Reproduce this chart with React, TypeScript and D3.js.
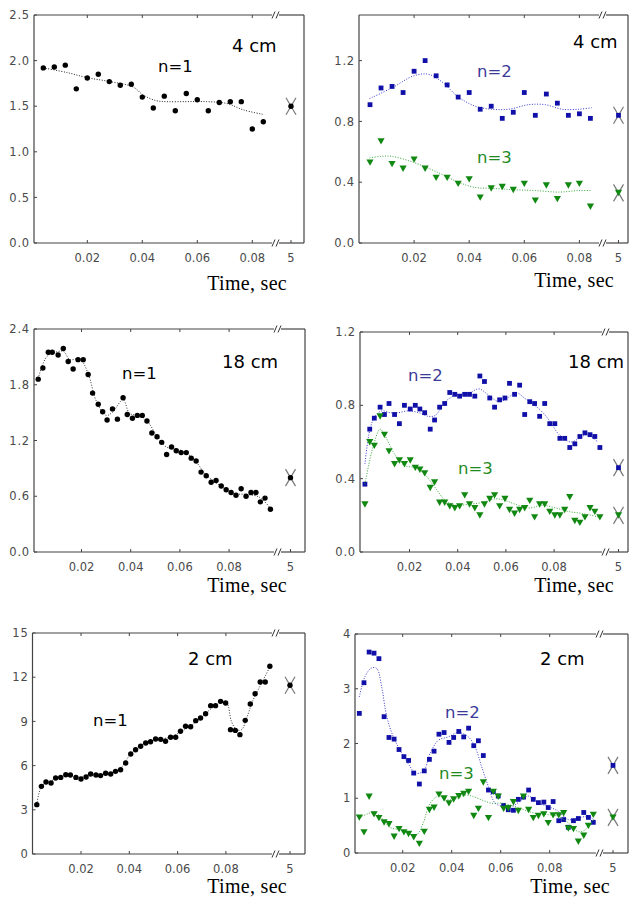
import React from "react";
import * as d3 from "d3";

// ---------- data ----------
const timeTop = [0.004, 0.008, 0.012, 0.016, 0.02, 0.024, 0.028, 0.032, 0.036, 0.04, 0.044, 0.048, 0.052, 0.056, 0.06, 0.064, 0.068, 0.072, 0.076, 0.08, 0.084];

const p1N1 = [1.92, 1.93, 1.95, 1.69, 1.81, 1.85, 1.77, 1.73, 1.74, 1.6, 1.48, 1.61, 1.45, 1.64, 1.57, 1.45, 1.54, 1.55, 1.55, 1.25, 1.33];
const p1FitT = [0.004, 0.0125, 0.0204, 0.0283, 0.0367, 0.0404, 0.0452, 0.0489, 0.0561, 0.0634, 0.0707, 0.0767, 0.084];
const p1FitV = [1.92, 1.87, 1.81, 1.77, 1.71, 1.62, 1.56, 1.55, 1.55, 1.55, 1.53, 1.46, 1.41];

const p2N2 = [0.91, 1.02, 1.03, 0.99, 1.13, 1.2, 1.1, 1.04, 0.96, 0.99, 0.88, 0.9, 0.82, 0.86, 0.99, 0.84, 0.98, 0.92, 0.84, 0.85, 0.82];
const p2N3 = [0.53, 0.67, 0.52, 0.49, 0.55, 0.49, 0.43, 0.43, 0.39, 0.42, 0.3, 0.36, 0.37, 0.35, 0.39, 0.28, 0.38, 0.29, 0.38, 0.39, 0.24];
const p2FitN2T = [0.0038, 0.0119, 0.0199, 0.0252, 0.0301, 0.0361, 0.0422, 0.0482, 0.0543, 0.0616, 0.0676, 0.0737, 0.0798, 0.0845];
const p2FitN2V = [0.95, 1.02, 1.1, 1.11, 1.06, 0.96, 0.9, 0.88, 0.88, 0.91, 0.91, 0.88, 0.88, 0.89];
const p2FitN3T = [0.0038, 0.0079, 0.0119, 0.0199, 0.0279, 0.0361, 0.0422, 0.0482, 0.0567, 0.064, 0.0725, 0.0798, 0.0845];
const p2FitN3V = [0.56, 0.57, 0.57, 0.53, 0.47, 0.4, 0.365, 0.36, 0.35, 0.345, 0.335, 0.345, 0.345];

const p3T = [0.0024, 0.0043, 0.0065, 0.0081, 0.0105, 0.0126, 0.0146, 0.0166, 0.0186, 0.0207, 0.0227, 0.0245, 0.0268, 0.0286, 0.0304, 0.0326, 0.0346, 0.0369, 0.0386, 0.0407, 0.0427, 0.0447, 0.0466, 0.0486, 0.0507, 0.0526, 0.0546, 0.0566, 0.0585, 0.0605, 0.0626, 0.0646, 0.0666, 0.0686, 0.0707, 0.0727, 0.0747, 0.0768, 0.0788, 0.0808, 0.0828, 0.0849, 0.0869, 0.0889, 0.0909, 0.0927, 0.0946, 0.0968];
const p3N1 = [1.86, 1.98, 2.15, 2.15, 2.12, 2.19, 2.05, 1.97, 2.07, 2.07, 1.91, 1.71, 1.59, 1.51, 1.42, 1.54, 1.43, 1.66, 1.48, 1.44, 1.47, 1.47, 1.41, 1.28, 1.24, 1.18, 1.05, 1.13, 1.09, 1.07, 1.07, 1.01, 0.98, 0.86, 0.82, 0.75, 0.77, 0.71, 0.67, 0.64, 0.61, 0.68, 0.6, 0.64, 0.64, 0.54, 0.58, 0.46];
const p3FitT = [0.0024, 0.0058, 0.0085, 0.0126, 0.0153, 0.0193, 0.0227, 0.0261, 0.0301, 0.0328, 0.0369, 0.0396, 0.0436, 0.047, 0.0504, 0.0545, 0.0599, 0.0653, 0.0707, 0.0761, 0.0815, 0.0869, 0.0923, 0.0968];
const p3FitV = [1.87, 2.1, 2.14, 2.16, 2.07, 2.08, 1.92, 1.62, 1.47, 1.51, 1.64, 1.49, 1.47, 1.4, 1.26, 1.13, 1.1, 1.01, 0.83, 0.72, 0.63, 0.62, 0.59, 0.47];

const p4T = [0.0015, 0.0035, 0.0054, 0.0078, 0.0096, 0.0115, 0.0138, 0.0158, 0.0179, 0.0203, 0.0224, 0.0243, 0.0263, 0.0286, 0.0304, 0.0325, 0.0346, 0.0367, 0.0388, 0.0408, 0.0429, 0.0449, 0.0471, 0.0492, 0.0511, 0.0533, 0.0553, 0.0574, 0.0596, 0.0615, 0.0636, 0.0657, 0.0678, 0.0699, 0.0719, 0.074, 0.0761, 0.0782, 0.0803, 0.0824, 0.0844, 0.0865, 0.0886, 0.0907, 0.0928, 0.0949, 0.0969, 0.099];
const p4N2 = [0.37, 0.67, 0.73, 0.79, 0.75, 0.81, 0.75, 0.7, 0.8, 0.78, 0.8, 0.78, 0.76, 0.67, 0.72, 0.79, 0.81, 0.87, 0.86, 0.85, 0.86, 0.86, 0.85, 0.96, 0.93, 0.84, 0.79, 0.83, 0.84, 0.92, 0.86, 0.91, 0.75, 0.82, 0.81, 0.74, 0.81, 0.7, 0.7, 0.62, 0.62, 0.57, 0.59, 0.63, 0.65, 0.64, 0.63, 0.57];
const p4N3 = [0.26, 0.6, 0.58, 0.74, 0.64, 0.55, 0.48, 0.5, 0.48, 0.5, 0.46, 0.45, 0.43, 0.35, 0.38, 0.27, 0.27, 0.25, 0.24, 0.25, 0.31, 0.26, 0.24, 0.2, 0.26, 0.29, 0.31, 0.25, 0.29, 0.23, 0.21, 0.23, 0.24, 0.28, 0.19, 0.26, 0.26, 0.22, 0.2, 0.2, 0.23, 0.3, 0.17, 0.16, 0.19, 0.24, 0.22, 0.19];
const p4FitN2T = [0.0015, 0.0036, 0.0057, 0.0085, 0.0119, 0.0154, 0.0196, 0.0238, 0.0279, 0.0307, 0.0349, 0.039, 0.0446, 0.0488, 0.0529, 0.0571, 0.0613, 0.064, 0.0682, 0.0738, 0.0779, 0.0821, 0.0869, 0.0904, 0.0939, 0.0981];
const p4FitN2V = [0.48, 0.67, 0.74, 0.77, 0.76, 0.76, 0.77, 0.76, 0.74, 0.745, 0.82, 0.855, 0.865, 0.89, 0.855, 0.82, 0.845, 0.87, 0.835, 0.78, 0.72, 0.64, 0.6, 0.62, 0.64, 0.6];
const p4FitN3T = [0.0015, 0.005, 0.0078, 0.0096, 0.014, 0.0182, 0.0224, 0.0265, 0.0307, 0.0349, 0.039, 0.0446, 0.0501, 0.0557, 0.0599, 0.064, 0.0696, 0.0751, 0.0807, 0.0863, 0.0918, 0.0988];
const p4FitN3V = [0.37, 0.58, 0.67, 0.64, 0.53, 0.47, 0.46, 0.42, 0.35, 0.28, 0.255, 0.26, 0.27, 0.29, 0.28, 0.26, 0.24, 0.255, 0.24, 0.22, 0.21, 0.19];

const p5T = [0.0017, 0.0036, 0.0055, 0.0076, 0.0095, 0.0116, 0.0137, 0.0156, 0.0179, 0.02, 0.0221, 0.024, 0.0262, 0.0281, 0.0302, 0.0323, 0.0343, 0.0364, 0.0385, 0.0406, 0.0426, 0.0447, 0.0468, 0.0488, 0.0509, 0.053, 0.055, 0.0571, 0.0592, 0.0612, 0.0633, 0.0654, 0.0675, 0.0695, 0.0716, 0.0737, 0.0757, 0.0778, 0.0799, 0.0819, 0.0839, 0.0858, 0.088, 0.0901, 0.0921, 0.0942, 0.0963, 0.0982];
const p5N1 = [3.35, 4.59, 4.89, 4.82, 5.16, 5.2, 5.38, 5.36, 5.2, 5.09, 5.23, 5.43, 5.36, 5.32, 5.48, 5.43, 5.61, 5.72, 6.18, 6.79, 7.08, 7.31, 7.53, 7.62, 7.81, 7.78, 7.65, 7.92, 7.92, 8.33, 8.67, 8.64, 9.05, 9.23, 9.52, 10.07, 10.07, 10.36, 10.25, 8.44, 8.39, 8.1, 9.07, 10.18, 10.88, 11.67, 11.67, 12.74];
const p5FitT = [0.0017, 0.0037, 0.0072, 0.0113, 0.0154, 0.0196, 0.0237, 0.0279, 0.032, 0.0361, 0.0403, 0.0444, 0.0486, 0.0527, 0.0568, 0.061, 0.0651, 0.0692, 0.0734, 0.0775, 0.0803, 0.0823, 0.0844, 0.0865, 0.0886, 0.0913, 0.0948, 0.0982];
const p5FitV = [3.35, 4.59, 4.93, 5.2, 5.38, 5.2, 5.38, 5.38, 5.5, 5.77, 6.74, 7.35, 7.65, 7.81, 7.92, 8.26, 8.67, 9.16, 9.8, 10.25, 10.25, 9.0, 8.44, 8.44, 9.23, 10.47, 11.61, 12.69];

const p6T = [0.0023, 0.0042, 0.0063, 0.0083, 0.0103, 0.0124, 0.0144, 0.0165, 0.0185, 0.0205, 0.0224, 0.0245, 0.0268, 0.0288, 0.0309, 0.0328, 0.0348, 0.0369, 0.0389, 0.0408, 0.0429, 0.0449, 0.0469, 0.049, 0.0509, 0.0529, 0.055, 0.057, 0.059, 0.0612, 0.0631, 0.0652, 0.0672, 0.0693, 0.0714, 0.0733, 0.0754, 0.0776, 0.0794, 0.0814, 0.0837, 0.0857, 0.0876, 0.0897, 0.0917, 0.0939, 0.0958, 0.0978];
const p6N2 = [2.55, 3.11, 3.67, 3.65, 3.55, 2.49, 2.11, 2.08, 1.89, 1.76, 1.69, 1.46, 1.26, 1.5, 1.71, 1.86, 2.17, 2.2, 2.02, 2.11, 2.22, 2.12, 2.28, 1.96, 2.05, 1.78, 1.15, 1.12, 1.04, 0.87, 0.79, 0.78, 0.98, 1.02, 1.15, 0.98, 0.92, 0.93, 0.83, 0.94, 0.59, 0.61, 0.47, 0.59, 0.63, 0.74, 0.65, 0.56];
const p6N3 = [0.65, 0.38, 1.03, 0.71, 0.64, 0.56, 0.53, 0.3, 0.44, 0.38, 0.35, 0.29, 0.17, 0.39, 0.79, 0.83, 1.07, 1.0, 0.91, 0.98, 1.04, 1.08, 1.12, 0.68, 0.81, 1.29, 0.64, 1.12, 1.03, 0.81, 0.82, 0.93, 0.77, 1.03, 0.79, 0.64, 0.68, 0.71, 0.55, 0.69, 0.69, 0.73, 0.45, 0.44, 0.21, 0.32, 0.5, 0.7];
const p6FitN2T = [0.0023, 0.0046, 0.0073, 0.0094, 0.0114, 0.0135, 0.0162, 0.0196, 0.023, 0.025, 0.0284, 0.0312, 0.0346, 0.0386, 0.0427, 0.0468, 0.0495, 0.0522, 0.055, 0.0577, 0.0604, 0.0645, 0.0686, 0.0713, 0.0754, 0.0794, 0.0835, 0.0876, 0.0917, 0.0958, 0.098];
const p6FitN2V = [2.85, 3.22, 3.38, 3.37, 3.04, 2.49, 2.12, 1.82, 1.58, 1.46, 1.49, 1.82, 2.06, 2.12, 2.2, 2.12, 1.94, 1.58, 1.21, 0.91, 0.86, 0.85, 0.97, 1.04, 0.91, 0.85, 0.76, 0.61, 0.64, 0.67, 0.61];
const p6FitN3T = [0.0023, 0.006, 0.0087, 0.0114, 0.0148, 0.0189, 0.0223, 0.0257, 0.0284, 0.0312, 0.0346, 0.0386, 0.0427, 0.0454, 0.0482, 0.0522, 0.0563, 0.0604, 0.0658, 0.0713, 0.0754, 0.0794, 0.0835, 0.0876, 0.0917, 0.0944, 0.0978];
const p6FitN3V = [0.65, 0.72, 0.75, 0.64, 0.47, 0.42, 0.36, 0.33, 0.55, 0.91, 1.04, 0.97, 1.01, 1.06, 1.04, 0.97, 0.91, 0.91, 0.85, 0.76, 0.71, 0.7, 0.67, 0.55, 0.39, 0.42, 0.61];

// values at t = 5 s (after the axis break)
const atFive = { p1: [1.5], p2: [0.84, 0.33], p3: [0.8], p4: [0.46, 0.2], p5: [11.45], p6: [1.6, 0.65] };

const xTicks = [0.02, 0.04, 0.06, 0.08];

// ---------- styles ----------
const SANS = "'DejaVu Sans', Verdana, sans-serif";
const SERIF = "'Liberation Serif', 'Times New Roman', serif";
const BLACK = "#000";
const BLUE = "#1010a8";
const GREEN = "#118811";
const BLUE_TXT = "#3a3a98";
const GREEN_TXT = "#1f8a1f";

type Kind = "circle" | "square" | "triangle";
type Series = { t: number[]; v: number[]; fitT: number[]; fitV: number[]; five: number; kind: Kind; color: string; fitColor: string };
type Label = { text: string; x: number; y: number; color: string };
type PanelCfg = {
  left: number; top: number; right: number; bottom: number;
  x0: number; xStep: number; breakX: number; fiveX: number;
  yMax: number; yTicks: number[]; yFmt: string;
  series: Series[]; title: Label; labels: Label[]; timeX: number; timeY: number;
};

const panels: PanelCfg[] = [
  {
    left: 34, top: 15, right: 304, bottom: 243, x0: 32.3, xStep: 55, breakX: 276, fiveX: 291,
    yMax: 2.5, yTicks: [0, 0.5, 1, 1.5, 2, 2.5], yFmt: ".1f",
    series: [{ t: timeTop, v: p1N1, fitT: p1FitT, fitV: p1FitV, five: atFive.p1[0], kind: "circle", color: BLACK, fitColor: "#222" }],
    title: { text: "4 cm", x: 232, y: 52, color: BLACK },
    labels: [{ text: "n=1", x: 158, y: 72, color: BLACK }],
    timeX: 287, timeY: 290,
  },
  {
    left: 359, top: 15, right: 628, bottom: 243, x0: 359, xStep: 55.1, breakX: 603, fiveX: 618.5,
    yMax: 1.5, yTicks: [0, 0.4, 0.8, 1.2], yFmt: ".1f",
    series: [
      { t: timeTop, v: p2N2, fitT: p2FitN2T, fitV: p2FitN2V, five: atFive.p2[0], kind: "square", color: BLUE, fitColor: "#3a3ad0" },
      { t: timeTop, v: p2N3, fitT: p2FitN3T, fitV: p2FitN3V, five: atFive.p2[1], kind: "triangle", color: GREEN, fitColor: "#3aa83a" },
    ],
    title: { text: "4 cm", x: 573, y: 48, color: BLACK },
    labels: [{ text: "n=2", x: 477, y: 77, color: BLUE_TXT }, { text: "n=3", x: 477, y: 163, color: GREEN_TXT }],
    timeX: 614, timeY: 287,
  },
  {
    left: 34, top: 329, right: 305, bottom: 552, x0: 32.3, xStep: 49.2, breakX: 278, fiveX: 290.5,
    yMax: 2.4, yTicks: [0, 0.6, 1.2, 1.8, 2.4], yFmt: ".1f",
    series: [{ t: p3T, v: p3N1, fitT: p3FitT, fitV: p3FitV, five: atFive.p3[0], kind: "circle", color: BLACK, fitColor: "#333" }],
    title: { text: "18 cm", x: 222, y: 368, color: BLACK },
    labels: [{ text: "n=1", x: 122, y: 379, color: BLACK }],
    timeX: 287, timeY: 592,
  },
  {
    left: 360, top: 332, right: 628, bottom: 552, x0: 361.3, xStep: 48.2, breakX: 606, fiveX: 618.5,
    yMax: 1.2, yTicks: [0, 0.4, 0.8, 1.2], yFmt: ".1f",
    series: [
      { t: p4T, v: p4N2, fitT: p4FitN2T, fitV: p4FitN2V, five: atFive.p4[0], kind: "square", color: BLUE, fitColor: "#3a3ad0" },
      { t: p4T, v: p4N3, fitT: p4FitN3T, fitV: p4FitN3V, five: atFive.p4[1], kind: "triangle", color: GREEN, fitColor: "#3aa83a" },
    ],
    title: { text: "18 cm", x: 568, y: 368, color: BLACK },
    labels: [{ text: "n=2", x: 408, y: 381, color: BLUE_TXT }, { text: "n=3", x: 458, y: 474, color: GREEN_TXT }],
    timeX: 614, timeY: 592,
  },
  {
    left: 32.5, top: 633, right: 305, bottom: 854, x0: 32.7, xStep: 48.3, breakX: 276, fiveX: 290,
    yMax: 15, yTicks: [0, 3, 6, 9, 12, 15], yFmt: "d",
    series: [{ t: p5T, v: p5N1, fitT: p5FitT, fitV: p5FitV, five: atFive.p5[0], kind: "circle", color: BLACK, fitColor: "#333" }],
    title: { text: "2 cm", x: 188, y: 665, color: BLACK },
    labels: [{ text: "n=1", x: 93, y: 726, color: BLACK }],
    timeX: 287, timeY: 893,
  },
  {
    left: 355, top: 634, right: 628, bottom: 853, x0: 353.7, xStep: 49, breakX: 600, fiveX: 613,
    yMax: 4, yTicks: [0, 1, 2, 3, 4], yFmt: "d",
    series: [
      { t: p6T, v: p6N2, fitT: p6FitN2T, fitV: p6FitN2V, five: atFive.p6[0], kind: "square", color: BLUE, fitColor: "#3a3ad0" },
      { t: p6T, v: p6N3, fitT: p6FitN3T, fitV: p6FitN3V, five: atFive.p6[1], kind: "triangle", color: GREEN, fitColor: "#3aa83a" },
    ],
    title: { text: "2 cm", x: 540, y: 665, color: BLACK },
    labels: [{ text: "n=2", x: 445, y: 718, color: BLUE_TXT }, { text: "n=3", x: 439, y: 779, color: GREEN_TXT }],
    timeX: 610, timeY: 893,
  },
];

function Marker({ kind, x, y, color }: { kind: Kind; x: number; y: number; color: string }) {
  if (kind === "circle") return <circle cx={x} cy={y} r={2.7} fill={color} />;
  if (kind === "square") return <rect x={x - 2.4} y={y - 2.4} width={4.8} height={4.8} fill={color} />;
  return <path d={`M${x - 3.6},${y - 3}L${x + 3.6},${y - 3}L${x},${y + 3.4}Z`} fill={color} />;
}

function Panel({ cfg }: { cfg: PanelCfg }) {
  const { left, top, right, bottom, breakX } = cfg;
  const x = d3.scaleLinear().domain([0, 0.02]).range([cfg.x0, cfg.x0 + cfg.xStep]);
  const xb = d3.scaleLinear().domain([4, 5]).range([breakX, cfg.fiveX]);
  const y = d3.scaleLinear().domain([0, cfg.yMax]).range([bottom, top]);
  const fmt = d3.format(cfg.yFmt);
  const line = d3
    .line<[number, number]>()
    .x((d) => x(d[0]))
    .y((d) => y(d[1]))
    .curve(d3.curveCatmullRom.alpha(0.5));
  const axis = "#444";
  const tickFont = { fontFamily: SANS, fontSize: 11.5, fill: "#4a4a4a" };
  const slash = (yy: number) => (
    <g stroke="#333" strokeWidth={1}>
      <line x1={breakX - 4} y1={yy + 3.5} x2={breakX - 1} y2={yy - 3.5} />
      <line x1={breakX} y1={yy + 3.5} x2={breakX + 3} y2={yy - 3.5} />
    </g>
  );

  return (
    <g>
      {/* frame */}
      <g stroke={axis} strokeWidth={1.2} fill="none">
        <line x1={left} y1={top} x2={left} y2={bottom} />
        <line x1={right} y1={top} x2={right} y2={bottom} />
        <line x1={left} y1={top} x2={breakX - 4} y2={top} />
        <line x1={breakX + 3} y1={top} x2={right} y2={top} />
        <line x1={left} y1={bottom} x2={breakX - 4} y2={bottom} />
        <line x1={breakX + 3} y1={bottom} x2={right} y2={bottom} />
      </g>
      {slash(top)}
      {slash(bottom)}

      {/* y ticks */}
      {cfg.yTicks.map((v) => (
        <g key={v}>
          <line x1={left} x2={left + 3} y1={y(v)} y2={y(v)} stroke={axis} />
          <text x={left - 4} y={y(v)} dy="0.36em" textAnchor="end" {...tickFont} letterSpacing={0.8}>
            {fmt(v)}
          </text>
        </g>
      ))}

      {/* x ticks */}
      {xTicks.map((t) => (
        <g key={t}>
          <line x1={x(t)} x2={x(t)} y1={bottom} y2={bottom - 3} stroke={axis} />
          <line x1={x(t)} x2={x(t)} y1={top} y2={top + 3} stroke={axis} />
          <text x={x(t)} y={bottom + 19} textAnchor="middle" {...tickFont}>
            {d3.format(".2f")(t)}
          </text>
        </g>
      ))}
      <line x1={xb(5)} x2={xb(5)} y1={bottom} y2={bottom - 3} stroke={axis} />
      <text x={xb(5)} y={bottom + 19} textAnchor="middle" {...tickFont}>
        5
      </text>

      {/* series */}
      {cfg.series.map((s, si) => (
        <g key={si}>
          <path
            d={line(s.fitT.map((t, i) => [t, s.fitV[i]] as [number, number])) || ""}
            fill="none"
            stroke={s.fitColor}
            strokeWidth={1}
            strokeDasharray="1,1.6"
          />
          {s.t.map((t, i) => (
            <Marker key={i} kind={s.kind} x={x(t)} y={y(s.v[i])} color={s.color} />
          ))}
          <g stroke="#777" strokeWidth={1.2}>
            <line x1={xb(5) - 5} y1={y(s.five) - 8.5} x2={xb(5) + 5} y2={y(s.five) + 8.5} />
            <line x1={xb(5) + 5} y1={y(s.five) - 8.5} x2={xb(5) - 5} y2={y(s.five) + 8.5} />
          </g>
          <Marker kind={s.kind} x={xb(5)} y={y(s.five)} color={s.color} />
        </g>
      ))}

      {/* labels */}
      <text x={cfg.title.x} y={cfg.title.y} fontFamily={SANS} fontSize={18} fill={cfg.title.color}>
        {cfg.title.text}
      </text>
      {cfg.labels.map((l) => (
        <text key={l.text} x={l.x} y={l.y} fontFamily={SANS} fontSize={16.5} fill={l.color}>
          {l.text}
        </text>
      ))}
      <text x={cfg.timeX} y={cfg.timeY} textAnchor="end" fontFamily={SERIF} fontSize={20} fill="#000" letterSpacing={0.3}>
        Time, sec
      </text>
    </g>
  );
}

export default function App() {
  return (
    <svg width={629} height={901} style={{ position: "absolute", left: 0, top: 0, background: "#fff" }}>
      <rect width={629} height={901} fill="#fff" />
      {panels.map((p, i) => (
        <Panel key={i} cfg={p} />
      ))}
    </svg>
  );
}
